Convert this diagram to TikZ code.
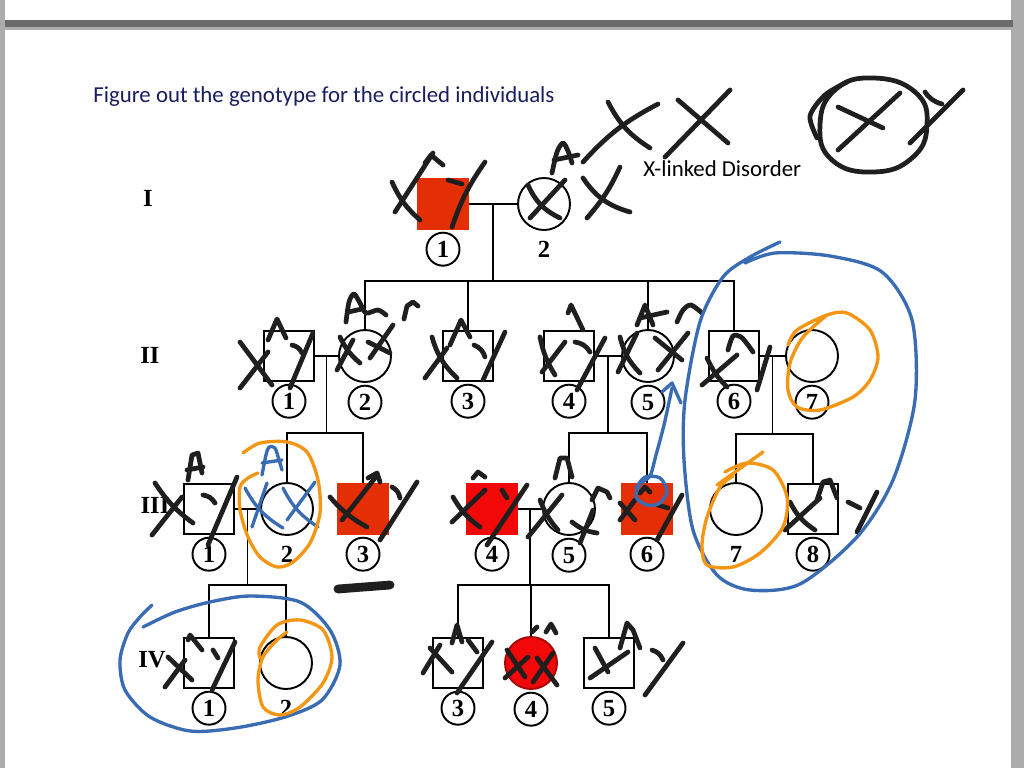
\documentclass[tikz,border=0pt]{standalone}
\usepackage{fontspec}
\setmainfont{Liberation Serif}
\newfontfamily\slidefont{Carlito}
\usetikzlibrary{positioning}
\usetikzlibrary{calc}

\definecolor{affred}{RGB}{228,46,6}
\definecolor{brightred}{RGB}{242,8,8}
\definecolor{penblue}{RGB}{58,108,180}
\definecolor{penorange}{RGB}{243,150,20}
\definecolor{titlenavy}{RGB}{25,30,95}
\definecolor{pageframe}{RGB}{172,172,172}

\tikzset{
  male/.style={draw, rectangle, line width=1.1pt, minimum size=1cm, inner sep=0pt},
  female/.style={draw, circle, line width=1.1pt, minimum size=1.04cm, inner sep=0pt},
  num/.style={font=\bfseries\fontsize{14}{14}\selectfont, inner sep=0pt, minimum size=0.66cm},
  numc/.style={num, draw, circle, line width=1.1pt},
  gen/.style={font=\bfseries\fontsize{14}{14}\selectfont},
  slide/.style={anchor=base west, inner sep=0pt, font=\slidefont\fontsize{13}{15}\selectfont},
  ink/.style={line width=2.7pt, line cap=round, line join=round, black!88},
  blueink/.style={line width=1.9pt, line cap=round, line join=round, penblue},
  orangeink/.style={line width=1.9pt, line cap=round, line join=round, penorange},
}

\begin{document}
\begin{tikzpicture}[x=0.02cm, y=-0.02cm]
    \useasboundingbox (0,0) rectangle (1024,768);
    % page background
    \fill[pageframe] (0,0) rectangle (1024,768);
    \fill[white] (5,0) rectangle (1011,20);
    \fill[black!58] (5,20) rectangle (1013,27);
    \fill[white] (5,30) rectangle (1011,768);

    \node[slide, text=titlenavy] (title) at (93,102) {Figure out the genotype for the circled individuals};
    \node[slide] (xlinked) at (643,176) {X-linked Disorder};

    % generation labels
    \node[gen] (gI) at (148,198) {I};
    \node[gen] (gII) at (150,355) {II};
    \node[gen] (gIII) at (155,505) {III};
    \node[gen] (gIV) at (152,660) {IV};

    % generation I
    \node[male, fill=affred, draw=affred] (I1) at (443,204) {};
    \node[female] (I2) at (544,204) {};
    \node[numc, below=1pt of I1] (nI1) {1};
    \node[num, below=1pt of I2] (nI2) {2};

    % generation II
    \node[male] (II1) at (289,356) {};
    \node[female] (II2) at (365,356) {};
    \node[male] (II3) at (468,356) {};
    \node[male] (II4) at (569,356) {};
    \node[female] (II5) at (648,356) {};
    \node[male] (II6) at (734,356) {};
    \node[female] (II7) at (812,356) {};
    \node[numc, below=1pt of II1] (nII1) {1};
    \node[numc, below=1pt of II2] (nII2) {2};
    \node[numc, below=1pt of II3] (nII3) {3};
    \node[numc, below=1pt of II4] (nII4) {4};
    \node[numc, below=1pt of II5] (nII5) {5};
    \node[numc, below=1pt of II6] (nII6) {6};
    \node[numc, below=1pt of II7] (nII7) {7};

    % generation III
    \node[male] (III1) at (209,509) {};
    \node[female] (III2) at (287,509) {};
    \node[male, fill=affred, draw=affred] (III3) at (363,509) {};
    \node[male, fill=brightred, draw=brightred] (III4) at (492,509) {};
    \node[female] (III5) at (569,509) {};
    \node[male, fill=affred, draw=affred] (III6) at (647,509) {};
    \node[female] (III7) at (736,509) {};
    \node[male] (III8) at (813,509) {};
    \node[numc, below=1pt of III1] (nIII1) {1};
    \node[num, below=1pt of III2] (nIII2) {2};
    \node[numc, below=1pt of III3] (nIII3) {3};
    \node[numc, below=1pt of III4] (nIII4) {4};
    \node[numc, below=1pt of III5] (nIII5) {5};
    \node[numc, below=1pt of III6] (nIII6) {6};
    \node[num, below=1pt of III7] (nIII7) {7};
    \node[numc, below=1pt of III8] (nIII8) {8};

    % generation IV
    \node[male] (IV1) at (209,663) {};
    \node[female] (IV2) at (286,663) {};
    \node[male] (IV3) at (458,663) {};
    \node[female, fill=brightred, draw=brightred!70!black] (IV4) at (531,663) {};
    \node[male] (IV5) at (609,663) {};
    \node[numc, below=1pt of IV1] (nIV1) {1};
    \node[num, below=1pt of IV2] (nIV2) {2};
    \node[numc, below=1pt of IV3] (nIV3) {3};
    \node[numc, below=1pt of IV4] (nIV4) {4};
    \node[numc, below=1pt of IV5] (nIV5) {5};

    % matings and sibships
    \coordinate (mI) at ($(I1.east)!0.5!(I2.west)$);
    \coordinate (mII12) at ($(II1.east)!0.5!(II2.west)$);
    \coordinate (mII45) at ($(II4.east)!0.5!(II5.west)$);
    \coordinate (mII67) at ($(II6.east)!0.5!(II7.west)$);
    \coordinate (mIII12) at ($(III1.east)!0.5!(III2.west)$);
    \coordinate (mIII45) at ($(III4.east)!0.5!(III5.west)$);
    \coordinate (sII) at (493,281);
    \coordinate (sIIIa) at (327,433);
    \coordinate (sIIIb) at (608,433);
    \coordinate (sIIIc) at (772,434);
    \coordinate (sIVa) at (248,585);
    \coordinate (sIVb) at (531,585);

    \begin{scope}[line width=1.1pt]
    \draw (I1.east) -- (I2.west);
    \draw (mI) -- (sII);
    \draw (II2.north) |- (sII) -| (II6.north);
    \draw (II3.north) -- (II3.north |- sII);
    \draw (II5.north) -- (II5.north |- sII);
    \draw (II1.east) -- (II2.west);
    \draw (II4.east) -- (II5.west);
    \draw (II6.east) -- (II7.west);
    \draw (mII12) -- (mII12 |- sIIIa);
    \draw (mII45) -- (mII45 |- sIIIb);
    \draw (mII67) -- (mII67 |- sIIIc);
    \draw (III2.north) |- (sIIIa) -| (III3.north);
    \draw (III5.north) |- (sIIIb) -| (III6.north);
    \draw (III7.north) |- (sIIIc) -| (III8.north);
    \draw (III1.east) -- (III2.west);
    \draw (III4.east) -- (III5.west);
    \draw (mIII12) -- (mIII12 |- sIVa);
    \draw (mIII45) -- (mIII45 |- sIVb);
    \draw (IV1.north) |- (sIVa) -| (IV2.north);
    \draw (IV3.north) |- (sIVb) -| (IV5.north);
    \draw (IV4.north) -- (sIVb);
    \end{scope}

    % handwriting, top
    \draw[ink] (583,162) to[bend left=10] (658,104);
    \draw[ink] (608,102) to[bend right=15] (650,148);
    \draw[ink] (678,100) -- (728,143);
    \draw[ink] (730,90) -- (665,157);
    \draw[ink] plot[smooth] coordinates {(817,138) (810,116) (825,95) (847,82)};
    \draw[ink] plot[smooth cycle, tension=0.8] coordinates {(873,78) (915,92) (927,125) (912,158) (873,172) (832,160) (820,125) (835,90)};
    \draw[ink] (838,107) -- (883,128);
    \draw[ink] (900,93) -- (838,150);
    \draw[ink] (925,92) to[bend right=20] (942,104);
    \draw[ink] (963,90) -- (910,143);
    \draw[ink] plot[smooth] coordinates {(552,173) (557,152) (563,143) (568,151) (572,163)};
    \draw[ink] (554,160) -- (578,155);

    % generation I
    \draw[ink] (433,153) -- (395,212);
    \draw[ink] (392,182) to[bend right=12] (420,220);
    \draw[ink] (425,163) -- (431,155) -- (443,165);
    \draw[ink] (448,180) -- (462,184);
    \draw[ink] (485,162) to[bend right=8] (452,227);
    \draw[ink] (528,185) to[bend right=20] (560,218);
    \draw[ink] (565,180) -- (530,218);
    \draw[ink] (620,167) to[bend left=8] (587,218);
    \draw[ink] (583,178) to[bend right=20] (630,212);

    % generation II
    \draw[ink] (240,342) -- (272,385);
    \draw[ink] (268,352) -- (240,388);
    \draw[ink] (268,340) -- (277,319) -- (286,338);
    \draw[ink] (292,345) to[bend left=25] (302,353);
    \draw[ink] (313,333) -- (290,388);
    \draw[ink] plot[smooth] coordinates {(346,322) (349,302) (354,294) (360,303) (366,313) (378,310) (386,315)};
    \draw[ink] (348,312) -- (362,309);
    \draw[ink] (404,319) -- (407,306) -- (413,302) -- (418,306);
    \draw[ink] (340,337) to[bend right=12] (360,363);
    \draw[ink] (353,340) -- (337,370);
    \draw[ink] (393,325) -- (370,358);
    \draw[ink] (368,342) -- (390,353);
    \draw[ink] (432,337) to[bend right=15] (457,378);
    \draw[ink] (447,348) -- (425,378);
    \draw[ink] (450,345) -- (461,320) -- (470,337);
    \draw[ink] (474,345) to[bend left=25] (485,357);
    \draw[ink] (505,332) -- (483,380);
    \draw[ink] (568,313) -- (571,305) -- (583,330);
    \draw[ink] (540,337) to[bend right=10] (555,375);
    \draw[ink] (565,342) -- (542,372);
    \draw[ink] (575,342) to[bend left=25] (590,352);
    \draw[ink] (605,338) -- (577,390);
    \draw[ink] (637,325) -- (645,305) -- (653,325);
    \draw[ink] (640,318) -- (667,312);
    \draw[ink] plot[smooth] coordinates {(677,322) (683,310) (691,305) (702,313)};
    \draw[ink] (620,337) to[bend right=15] (640,373);
    \draw[ink] (637,333) -- (618,372);
    \draw[ink] (688,333) -- (658,370);
    \draw[ink] (655,338) -- (682,360);
    \draw[ink] plot[smooth] coordinates {(728,350) (733,336) (741,337) (748,345) (753,352)};
    \draw[ink] (770,347) -- (757,390);
    \draw[ink] (737,355) -- (702,385);
    \draw[ink] (707,358) to[bend right=10] (727,387);

    % generation III
    \draw[ink] (188,480) -- (192,455) -- (198,453) -- (202,473);
    \draw[ink] (187,470) -- (203,467);
    \draw[ink] (155,483) to[bend right=10] (193,523);
    \draw[ink] (182,497) -- (152,535);
    \draw[ink] (203,495) to[bend left=25] (215,503);
    \draw[ink] (237,477) -- (208,545);
    \draw[ink] (330,497) to[bend right=10] (367,527);
    \draw[ink] (375,478) -- (342,520);
    \draw[ink] (368,478) -- (377,473) -- (380,482);
    \draw[ink] (392,487) to[bend left=25] (400,498);
    \draw[ink] (417,482) -- (380,540);
    \draw[ink, line width=5pt] (338,589) -- (390,585);
    \draw[ink] (473,478) -- (478,472) -- (485,477);
    \draw[ink] (502,490) -- (507,498);
    \draw[ink] (453,497) to[bend right=12] (480,527);
    \draw[ink] (485,490) -- (452,522);
    \draw[ink] (527,485) -- (487,545);
    \draw[ink] (555,478) -- (560,458) -- (567,458) -- (572,477);
    \draw[ink] (562,495) -- (528,537);
    \draw[ink] (540,500) to[bend right=10] (558,530);
    \draw[ink] (592,500) -- (598,488) -- (607,492) -- (610,498);
    \draw[ink] (593,510) -- (580,543);
    \draw[ink] (572,522) to[bend right=15] (597,533);
    \draw[ink] (620,503) -- (635,520);
    \draw[ink] (635,500) -- (620,520);
    \draw[ink] (640,493) -- (645,487) -- (650,492);
    \draw[ink] (658,505) -- (668,508);
    \draw[ink] (682,495) -- (657,540);
    \draw[ink] (817,500) -- (823,482) -- (830,480) -- (837,498);
    \draw[ink] (790,502) to[bend right=15] (815,530);
    \draw[ink] (820,498) -- (785,530);
    \draw[ink] (848,502) -- (860,508);
    \draw[ink] (877,492) -- (857,532);

    % generation IV
    \draw[ink] (188,640) -- (190,635) -- (202,650);
    \draw[ink] (168,657) -- (192,680);
    \draw[ink] (185,660) -- (165,687);
    \draw[ink] (213,650) -- (218,658);
    \draw[ink] (235,642) -- (212,690);
    \draw[ink] (452,643) -- (457,625) -- (462,642);
    \draw[ink] (468,640) -- (477,652);
    \draw[ink] (430,648) -- (452,672);
    \draw[ink] (440,645) -- (423,673);
    \draw[ink] (492,642) -- (457,693);
    \draw[ink] (532,632) -- (537,627);
    \draw[ink] (546,632) -- (551,624) -- (556,633);
    \draw[ink] (507,650) -- (525,677);
    \draw[ink] (528,657) -- (505,678);
    \draw[ink] (553,653) -- (533,682);
    \draw[ink] (537,658) -- (557,685);
    \draw[ink] (595,648) -- (608,672);
    \draw[ink] (628,652) -- (590,678);
    \draw[ink] (620,648) -- (627,623) -- (633,630) -- (640,648);
    \draw[ink] (652,650) to[bend left=25] (663,660);
    \draw[ink] (683,643) -- (645,695);

    % blue pen
    \draw[blueink] plot[smooth] coordinates {(262,475) (266,455) (269,447) (275,448) (279,460) (282,470)};
    \draw[blueink] (262,463) -- (282,460);
    \draw[blueink] (267,483) -- (252,527);
    \draw[blueink] (245,488) to[bend right=15] (283,528);
    \draw[blueink] (315,482) -- (287,520);
    \draw[blueink] (283,488) to[bend right=15] (318,527);
    \draw[blueink] plot[smooth] coordinates {(636,488) (645,477) (660,478) (667,491) (660,503) (647,505) (636,497) (640,484) (650,476) (656,455) (664,425) (672,388)};
    \draw[blueink] (662,392) -- (672,383) -- (681,403);
    \draw[blueink] plot[smooth] coordinates {(780,242) (750,257) (723,277) (700,322) (685,400) (684,460) (693,530) (717,575) (750,590) (800,584) (857,537) (893,480) (915,400) (912,320) (882,272) (830,256) (775,253) (745,263)};
    \draw[blueink] plot[smooth] coordinates {(143,627) (175,612) (210,602) (250,596) (300,602) (330,630) (340,665) (322,700) (285,717) (235,728) (190,731) (150,717) (125,690) (120,660) (128,633) (140,617) (152,605)};

    % orange pen
    \draw[orangeink] plot[smooth] coordinates {(788,345) (797,330) (827,315) (847,313) (870,330) (878,357) (870,380) (853,397) (820,410) (797,407) (788,390) (790,363) (803,337) (827,315)};
    \draw[orangeink] (763,452) -- (717,485);
    \draw[orangeink] plot[smooth] coordinates {(725,472) (747,463) (773,470) (787,497) (783,527) (760,553) (733,567) (707,565) (702,545) (707,517) (720,487) (733,476)};
    \draw[orangeink] plot[smooth] coordinates {(243,453) (260,443) (287,442) (307,452) (318,480) (320,513) (310,543) (293,562) (277,567) (260,557) (248,537) (240,510) (240,487) (248,478) (258,473)};
    \draw[orangeink] plot[smooth] coordinates {(260,658) (260,647) (277,625) (300,620) (323,630) (332,657) (323,683) (300,707) (280,715) (263,707) (258,680) (263,657) (277,640) (287,632)};
\end{tikzpicture}
\end{document}
